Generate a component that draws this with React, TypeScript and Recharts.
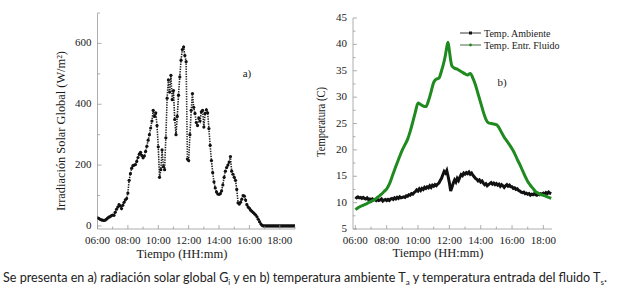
import { LineChart, Line, XAxis, YAxis } from "recharts";

const SERIF = "'Liberation Serif', 'Times New Roman', serif";
const INK = "#1a1a1a";
const AXIS = "#9a9a9a";
const GREEN = "#1f8a1f";

// a) irradiación solar global, una muestra cada 5 min desde las 06:00 (W/m2)
const IRR_START = "06:00";
const IRR_VALUES = [
  27, 25, 22, 20, 19, 18, 19, 22, 26, 29, 31, 34,
  36, 35, 45, 55, 62, 70, 66, 57, 68, 78, 86, 90,
  108, 150, 172, 190, 198, 200, 202, 212, 225, 236, 242, 232,
  224, 230, 245, 262, 282, 300, 322, 345, 380, 360, 372, 330,
  260, 160, 185, 250, 195, 185, 290, 420, 480, 440, 495, 415,
  445, 350, 300, 360, 430, 490, 545, 580, 588, 560, 540, 220,
  215, 300, 380, 435, 390, 370, 340, 330, 355, 345, 375, 380,
  325, 370, 382, 372, 320, 265, 215, 175, 145, 125, 112, 105,
  104, 106, 115, 135, 160, 180, 192, 200, 210, 228, 180, 170,
  160, 150, 120, 76, 72, 78, 88, 100, 98, 85, 70, 62,
  58, 52, 48, 44, 40, 36, 30, 22, 14, 7, 2, 0,
  0, 0, 0, 0, 0, 0, 0, 0, 0, 0, 0, 0,
  0, 0, 0, 0, 0, 0, 0, 0, 0, 0, 0, 0,
  0,
];

// b) temperatura ambiente, cada 5 min desde las 06:00 (C)
const AMB_START = "06:00";
const AMB_VALUES = [
  11.1, 10.9, 11.1, 10.9, 11.0, 10.8, 11.0, 10.8, 10.7, 10.9, 10.6, 10.7,
  10.5, 10.7, 10.5, 10.6, 10.4, 10.6, 10.4, 10.5, 10.7, 10.3, 10.5, 10.6,
  10.4, 10.6, 10.4, 10.7, 10.8, 10.6, 10.9, 10.7, 11.0, 10.8, 11.1, 10.9,
  11.0, 11.1, 11.0, 11.3, 11.2, 11.5, 11.4, 11.7, 11.6, 11.9, 12.1, 12.4,
  12.2, 12.6, 12.3, 12.7, 12.5, 12.9, 12.7, 13.0, 12.8, 13.2, 12.9, 13.3,
  13.1, 13.4, 13.2, 13.5, 13.7, 14.2, 14.6, 15.3, 15.9, 15.6, 16.1, 15.0,
  13.8, 12.2, 12.9, 13.7, 14.3, 13.9, 14.6, 14.2, 14.8, 15.3, 15.1, 15.6,
  15.4, 15.7, 15.5, 15.8, 15.4, 15.6, 15.2, 14.9, 14.6, 14.4, 14.1, 14.3,
  13.9, 14.1, 13.7, 13.4, 13.6, 13.2, 13.4, 13.6, 13.8, 13.5, 13.7, 13.4,
  13.6, 13.3, 13.5, 13.1, 13.4, 13.2, 12.9, 13.2, 13.4, 13.1, 13.3, 13.0,
  13.0, 12.7, 12.8, 12.5, 12.6, 12.3, 12.2, 12.0, 11.9, 12.0, 11.7, 11.8,
  11.6, 11.7, 11.4, 11.6, 11.5, 11.7, 11.5, 11.4, 11.6, 11.5, 11.7, 11.6,
  11.8, 11.6, 11.9, 11.7, 12.0, 11.8, 11.7,
];

// b) temperatura de entrada del fluido (C)
const FLUID_TIMES = [
  "06:00", "06:10", "06:20", "06:30", "06:40", "06:50",
  "07:00", "07:10", "07:20", "07:30", "07:40", "07:50",
  "08:00", "08:10", "08:20", "08:30", "08:40", "08:50",
  "09:00", "09:10", "09:20", "09:30", "09:40", "09:50",
  "10:00", "10:10", "10:20", "10:30", "10:40", "10:50",
  "11:00", "11:10", "11:20", "11:30", "11:40", "11:45", "11:50", "11:55",
  "12:00", "12:05", "12:10", "12:20", "12:30", "12:40", "12:50",
  "13:00", "13:10", "13:20", "13:30", "13:40", "13:50",
  "14:00", "14:10", "14:20", "14:30", "14:40", "14:50",
  "15:00", "15:10", "15:20", "15:30", "15:40", "15:50",
  "16:00", "16:10", "16:20", "16:30", "16:40", "16:50",
  "17:00", "17:10", "17:20", "17:30", "17:40", "17:50",
  "18:00", "18:10", "18:20", "18:30",
];
const FLUID_VALUES = [
  8.7, 9.0, 9.3, 9.5, 9.7, 10.0,
  10.2, 10.5, 10.8, 11.2, 11.6, 12.1,
  12.6, 13.5, 14.8, 16.2, 17.5, 18.8,
  20.0, 21.0, 22.0, 23.5, 25.3, 27.2,
  28.9, 28.6, 28.3, 28.2, 29.3, 31.0,
  32.8, 33.4, 33.6, 35.0, 36.8, 38.0, 39.5, 40.4,
  38.8, 37.0, 35.9, 35.5, 35.3, 35.0, 34.7,
  34.4, 34.2, 34.5, 33.6, 32.3, 30.6,
  28.9, 27.2, 25.8, 25.1, 25.0, 24.9,
  24.8, 24.2, 23.3, 22.4, 21.7, 21.0,
  20.2, 19.3, 18.2, 17.2, 16.1, 15.0,
  14.0, 13.3, 12.7, 12.1, 11.8, 11.5,
  11.4, 11.2, 11.0, 10.8,
];

const HOURS_A = [6, 7, 8, 9, 10, 11, 12, 13, 14, 15, 16, 17, 18, 19];
const HOURS_B = [6, 7, 8, 9, 10, 11, 12, 13, 14, 15, 16, 17, 18];
const IRR_TICKS = [0, 100, 200, 300, 400, 500, 600, 700];
const TEMP_TICKS = [5, 7.5, 10, 12.5, 15, 17.5, 20, 22.5, 25, 27.5, 30, 32.5, 35, 37.5, 40, 42.5, 45];

const toHours = (s: string) => {
  const [h, m] = s.split(":").map(Number);
  return h + m / 60;
};
const onGrid = (start: string, values: number[]) =>
  values.map((v, i) => ({ t: toHours(start) + (i * 5) / 60, v }));

const irrData = onGrid(IRR_START, IRR_VALUES);
const ambData = onGrid(AMB_START, AMB_VALUES);
const fluidData = FLUID_TIMES.map((s, i) => ({ t: toHours(s), v: FLUID_VALUES[i] }));

const hhmm = (h: number) => `${String(h).padStart(2, "0")}:00`;

const makeXTick = (lastLabel: number) => (props: any) => {
  const { x, y, payload } = props;
  const h = payload.value as number;
  const major = h % 2 === 0;
  return (
    <g>
      <line x1={x} x2={x} y1={y} y2={y - (major ? 4 : 2.5)} stroke={AXIS} strokeWidth={0.8} />
      {major && h <= lastLabel ? (
        <text x={x} y={y + 14.5} textAnchor="middle" fontSize={11} fontFamily={SERIF} fill={INK}>
          {hhmm(h)}
        </text>
      ) : null}
    </g>
  );
};

const makeYTick = (step: number) => (props: any) => {
  const { x, y, payload } = props;
  const v = payload.value as number;
  const major = v % step === 0;
  return (
    <g>
      <line x1={x} x2={x + (major ? 4 : 2.5)} y1={y} y2={y} stroke={AXIS} strokeWidth={0.8} />
      {major ? (
        <text x={x - 6} y={y + 3} textAnchor="end" fontSize={11} fontFamily={SERIF} fill={INK}>
          {v}
        </text>
      ) : null}
    </g>
  );
};

export default function App() {
  return (
    <div style={{ position: "absolute", left: 0, top: 0, width: 624, height: 293, background: "#fff", overflow: "hidden" }}>
      <div style={{ position: "absolute", left: 0, top: 0 }}>
        <LineChart width={310} height={260} margin={{ top: 13, right: 15, bottom: 6, left: 0 }}>
          <XAxis
            type="number"
            dataKey="t"
            domain={[6, 19]}
            ticks={HOURS_A}
            interval={0}
            allowDataOverflow
            height={25}
            tickSize={0}
            tickMargin={0}
            tickLine={false}
            axisLine={{ stroke: AXIS, strokeWidth: 0.8 }}
            tick={makeXTick(18)}
          />
          <YAxis
            type="number"
            dataKey="v"
            domain={[-10, 700]}
            ticks={IRR_TICKS}
            interval={0}
            allowDataOverflow
            width={97.5}
            tickSize={0}
            tickMargin={0}
            tickLine={false}
            axisLine={{ stroke: AXIS, strokeWidth: 0.8 }}
            tick={makeYTick(200)}
          />
          <Line
            data={irrData}
            dataKey="v"
            type="linear"
            stroke="#222"
            strokeWidth={1.6}
            strokeDasharray="1.4 1.1"
            dot={{ r: 1.6, fill: "#111", stroke: "none" }}
            isAnimationActive={false}
          />
        </LineChart>
      </div>

      <div style={{ position: "absolute", left: 310, top: 0 }}>
        <LineChart width={314} height={260} margin={{ top: 18, right: 72, bottom: 6, left: 0 }}>
          <XAxis
            type="number"
            dataKey="t"
            domain={[5.85, 18.55]}
            ticks={HOURS_B}
            interval={0}
            allowDataOverflow
            height={25}
            tickSize={0}
            tickMargin={0}
            tickLine={false}
            axisLine={{ stroke: AXIS, strokeWidth: 0.8 }}
            tick={makeXTick(18)}
          />
          <YAxis
            type="number"
            dataKey="v"
            domain={[5, 45]}
            ticks={TEMP_TICKS}
            interval={0}
            allowDataOverflow
            width={43}
            tickSize={0}
            tickMargin={0}
            tickLine={false}
            axisLine={{ stroke: AXIS, strokeWidth: 0.8 }}
            tick={makeYTick(5)}
          />
          <Line
            data={ambData}
            dataKey="v"
            type="linear"
            stroke="#111"
            strokeWidth={3}
            dot={false}
            isAnimationActive={false}
          />
          <Line
            data={fluidData}
            dataKey="v"
            type="monotone"
            stroke={GREEN}
            strokeWidth={3}
            dot={false}
            isAnimationActive={false}
          />
        </LineChart>
      </div>

      <svg width={624} height={293} style={{ position: "absolute", left: 0, top: 0, pointerEvents: "none" }}>
        <g fontFamily={SERIF} fill={INK}>
          <text transform="translate(65,131) rotate(-90)" textAnchor="middle" fontSize={12} textLength={160} lengthAdjust="spacingAndGlyphs">
            Irradiación Solar Global (W/m²)
          </text>
          <text x={182} y={258} textAnchor="middle" fontSize={12.5}>Tiempo (HH:mm)</text>
          <text x={247} y={77} textAnchor="middle" fontSize={11}>a)</text>

          <text transform="translate(325,122) rotate(-90)" textAnchor="middle" fontSize={11.5} textLength={70} lengthAdjust="spacingAndGlyphs">
            Temperatura (C)
          </text>
          <text x={438} y={257} textAnchor="middle" fontSize={12.5}>Tiempo (HH:mm)</text>
          <text x={502} y={86} textAnchor="middle" fontSize={11}>b)</text>

          <line x1={460} x2={481} y1={33} y2={33} stroke="#222" strokeWidth={0.9} />
          <rect x={469} y={31.5} width={3} height={3} fill="#111" />
          <text x={484} y={36.5} fontSize={10}>Temp. Ambiente</text>
          <line x1={460} x2={481} y1={45} y2={45} stroke="#2c5a2c" strokeWidth={0.9} />
          <circle cx={470.5} cy={45} r={1.4} fill={GREEN} />
          <text x={484} y={48.5} fontSize={10}>Temp. Entr. Fluido</text>
        </g>

        <text x={3} y={282} fontFamily="Lato, 'Open Sans', sans-serif" fontSize={12.5} fill="#222" textLength={604} lengthAdjust="spacingAndGlyphs">
          Se presenta en a) radiación solar global G<tspan dy={2.5} fontSize={8}>i</tspan>
          <tspan dy={-2.5}> y en b) temperatura ambiente T</tspan>
          <tspan dy={2.5} fontSize={8}>a</tspan>
          <tspan dy={-2.5}> y temperatura entrada del fluido T</tspan>
          <tspan dy={2.5} fontSize={8}>s</tspan>
          <tspan dy={-2.5}>.</tspan>
        </text>
      </svg>
    </div>
  );
}
